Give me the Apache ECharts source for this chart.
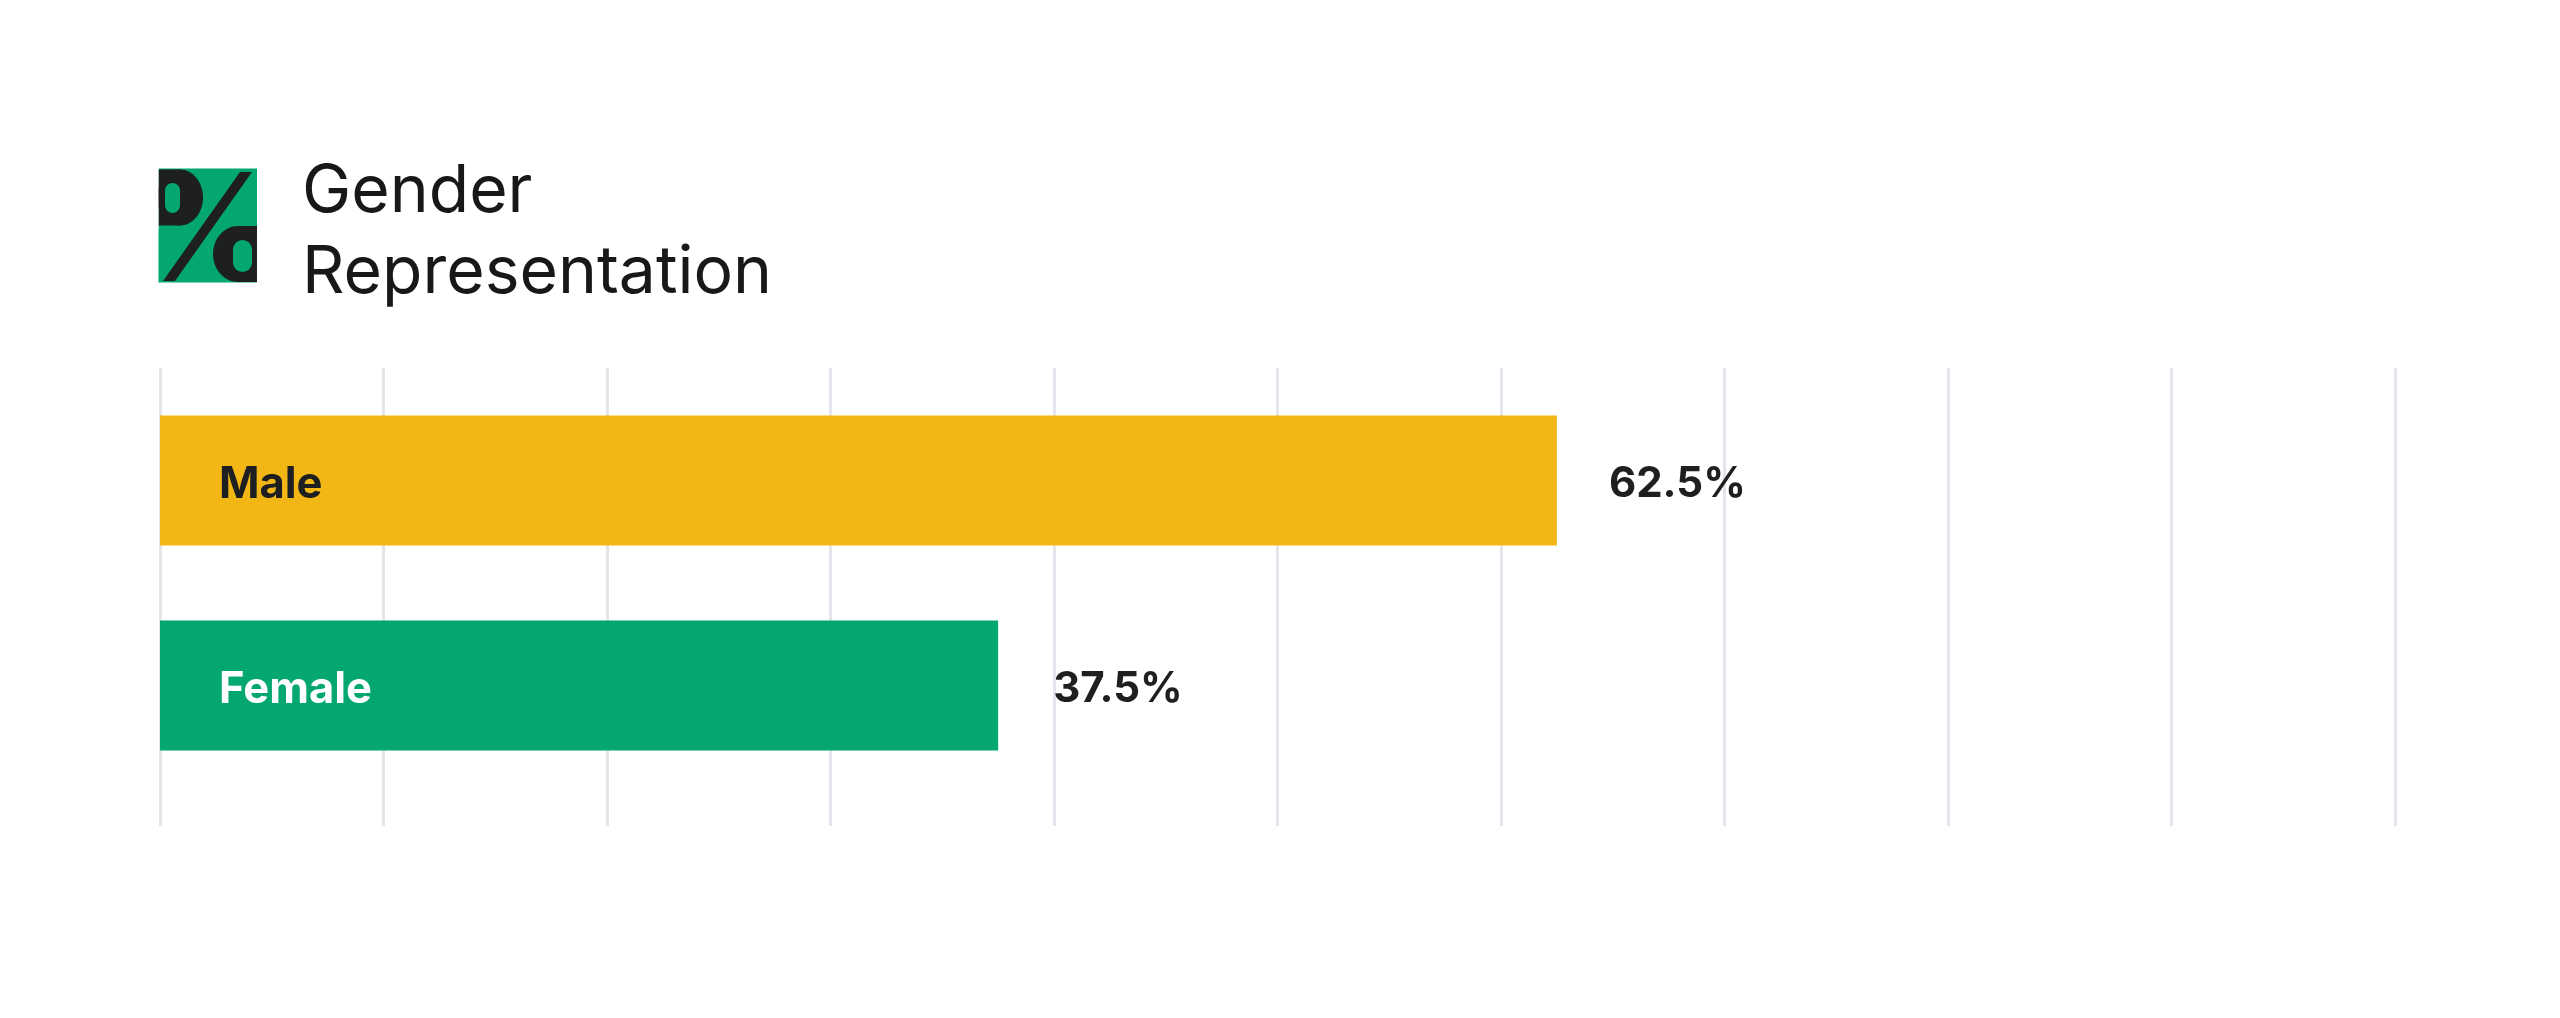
<!DOCTYPE html>
<html><head><meta charset="utf-8">
<style>html,body{margin:0;padding:0;background:#fff}#c{width:2560px;height:1018px}</style>
<script src="https://cdn.jsdelivr.net/npm/echarts@6/dist/echarts.min.js"></script>
</head><body><div id="c"></div>
<script>
const categories = ['Male', 'Female'];
const values = [62.5, 37.5];
const barColors = ['#F3B715', '#03A76F'];
const nameColors = ['#1D1F21', '#FFFFFF'];
const titleText = 'Gender\nRepresentation';
const INK = '#1D1F21';
const GREEN = '#03A76F';
const FONT = 'Inter';

const chart = echarts.init(document.getElementById('c'), null, {renderer: 'canvas'});
chart.setOption({
  animation: false,
  backgroundColor: '#fff',
  title: {
    text: titleText, left: 297, top: 147,
    textStyle: {fontFamily: FONT, fontWeight: 400, fontSize: 66, lineHeight: 81, color: '#17181A'}
  },
  grid: [
    {left: 160, width: 2235, top: 368, height: 458},
    {left: 160, width: 2235, top: 378, height: 410}
  ],
  xAxis: [
    {gridIndex: 0, type: 'value', min: 0, max: 100, interval: 10,
     axisLine: {show: false}, axisTick: {show: false}, axisLabel: {show: false},
     splitLine: {show: true, lineStyle: {color: '#E3E5EA', width: 3}}},
    {gridIndex: 1, type: 'value', min: 0, max: 100, show: false, splitLine: {show: false}}
  ],
  yAxis: [
    {gridIndex: 0, type: 'category', data: [''], show: false},
    {gridIndex: 1, type: 'category', data: categories, inverse: true,
     axisLine: {show: false}, axisTick: {show: false}, axisLabel: {show: false}}
  ],
  series: [{
    type: 'bar', xAxisIndex: 1, yAxisIndex: 1, barWidth: 130, barGap: '-100%',
    data: values.map((v, i) => ({value: v, itemStyle: {color: barColors[i]}, label: {distance: i ? 55 : 52}})),
    label: {show: true, position: 'right', offset: [0, 4], formatter: p => p.value + '%',
      fontFamily: FONT, fontWeight: 700, fontSize: 42, color: INK}
  }, {
    type: 'bar', xAxisIndex: 1, yAxisIndex: 1, barWidth: 130, barGap: '-100%',
    itemStyle: {color: 'rgba(0,0,0,0)'},
    data: values.map((v, i) => ({value: v, label: {color: nameColors[i]}})),
    label: {show: true, position: 'insideLeft', distance: 59, offset: [0, 4], formatter: p => p.name,
      fontFamily: FONT, fontWeight: 700, fontSize: 43.5}
  }],
  graphic: [
    {type: 'rect', shape: {x: 158.5, y: 168.5, width: 98.5, height: 114}, style: {fill: GREEN}},
    {type: 'ellipse', shape: {cx: 180, cy: 197.5, rx: 23, ry: 28}, style: {fill: INK}},
    {type: 'rect', shape: {x: 158.5, y: 169.5, width: 21.5, height: 56}, style: {fill: INK}},
    {type: 'rect', shape: {x: 165, y: 183, width: 15, height: 30, r: 7.5}, style: {fill: GREEN}},
    {type: 'ellipse', shape: {cx: 238, cy: 254, rx: 25, ry: 28}, style: {fill: INK}},
    {type: 'rect', shape: {x: 238, y: 226, width: 19, height: 56}, style: {fill: INK}},
    {type: 'rect', shape: {x: 233, y: 240, width: 19, height: 32, r: 9.5}, style: {fill: GREEN}},
    {type: 'rect', shape: {x: 150, y: 165, width: 8.5, height: 65}, style: {fill: '#fff'}},
    {type: 'rect', shape: {x: 257, y: 222, width: 10, height: 64}, style: {fill: '#fff'}},
    {type: 'polygon', shape: {points: [[240, 172], [252, 172], [175, 281], [163, 281]]}, style: {fill: INK}}
  ]
});
</script></body></html>
